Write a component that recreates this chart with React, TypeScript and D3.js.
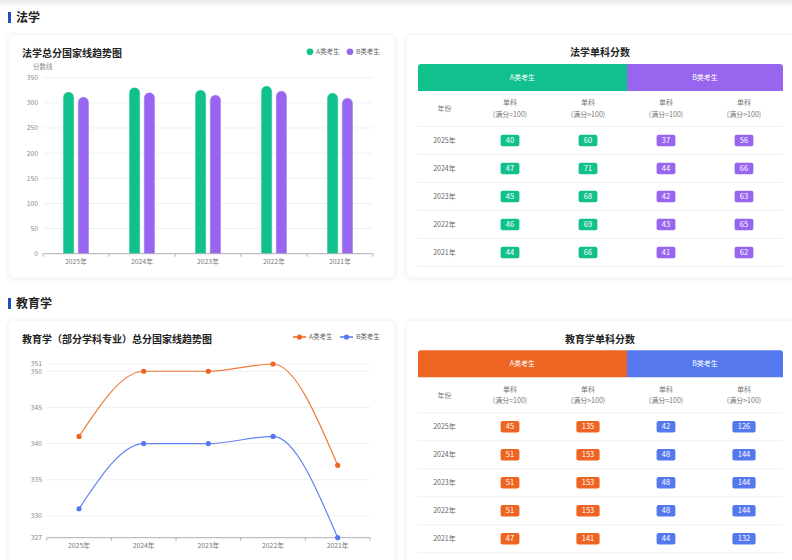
import React from "react";
import * as d3 from "d3";

const years = ["2025年", "2024年", "2023年", "2022年", "2021年"];

// 法学 total score lines
const lawA = [322, 331, 326, 334, 320];
const lawB = [312, 321, 316, 324, 310];
const lawTicks = [0, 50, 100, 150, 200, 250, 300, 350];

// 法学 single subject
const lawA100 = [40, 47, 45, 46, 44];
const lawAOver = [60, 71, 68, 69, 66];
const lawB100 = [37, 44, 42, 43, 41];
const lawBOver = [56, 66, 63, 65, 62];

// 教育学 total score lines
const eduA = [341, 350, 350, 351, 337];
const eduB = [331, 340, 340, 341, 327];
const eduTicks = [327, 330, 335, 340, 345, 350, 351];

// 教育学 single subject
const eduA100 = [45, 51, 51, 51, 47];
const eduAOver = [135, 153, 153, 153, 141];
const eduB100 = [42, 48, 48, 48, 44];
const eduBOver = [126, 144, 144, 144, 132];

const FONT = "'Noto Sans CJK SC', 'Noto Sans', sans-serif";
const GREEN = "#10c18d";
const PURPLE = "#9866ee";
const ORANGE = "#ee6523";
const BLUE = "#5578ef";

const Card = ({ x, y, w, h }: { x: number; y: number; w: number; h: number }) => (
  <rect x={x} y={y} width={w} height={h} rx={6} fill="#fff" stroke="#f1f1f3" filter="url(#shadow)" />
);

const SectionTitle = ({ y, text }: { y: number; text: string }) => (
  <g>
    <rect x={8} y={y - 6} width={3} height={11} fill="#1f4fbf" />
    <text x={16} y={y} dy="0.35em" fontSize={12} fontWeight="bold" fill="#222">{text}</text>
  </g>
);

function BarChart() {
  const x = d3.scaleBand().domain(years).range([43, 373]);
  const y = d3.scaleLinear().domain([0, 350]).range([253.7, 77.7]);
  const inner = d3.scaleBand().domain(["A", "B"]).range([-13, 13]).paddingInner(0.25);
  const series = [
    { key: "A", values: lawA, color: GREEN },
    { key: "B", values: lawB, color: PURPLE },
  ];
  const bw = inner.bandwidth();
  const r = bw / 2;
  const [x0, x1] = x.range();
  const bottom = y(0);

  return (
    <g>
      <text x={22} y={53} dy="0.35em" fontSize={10} fontWeight="bold" fill="#222">法学总分国家线趋势图</text>
      {/* legend */}
      <circle cx={310} cy={51.7} r={3.3} fill={GREEN} />
      <text x={316} y={51.7} dy="0.35em" fontSize={6.5} fill="#666">A类考生</text>
      <circle cx={350} cy={51.7} r={3.3} fill={PURPLE} />
      <text x={356} y={51.7} dy="0.35em" fontSize={6.5} fill="#666">B类考生</text>

      <text x={33} y={67} dy="0.35em" fontSize={6.5} fill="#888">分数线</text>
      {lawTicks.map((t) => (
        <g key={t}>
          {t > 0 && <line x1={x0} x2={x1} y1={y(t)} y2={y(t)} stroke="#eef0f7" />}
          <text x={38} y={y(t)} dy="0.35em" textAnchor="end" fontSize={6.8} fill="#888">{t}</text>
        </g>
      ))}
      {series.map((s) =>
        s.values.map((v, i) => {
          const bx = (x(years[i]) as number) + x.bandwidth() / 2 + (inner(s.key) as number);
          const top = y(v);
          const d = `M${bx},${bottom} V${top + r} A${r},${r} 0 0 1 ${bx + bw},${top + r} V${bottom} Z`;
          return <path key={s.key + i} d={d} fill={s.color} stroke="#fff" strokeWidth={0.6} />;
        })
      )}
      <line x1={x0} x2={x1} y1={bottom} y2={bottom} stroke="#9a9a9a" strokeWidth={0.8} />
      {[...years.map((yr) => x(yr) as number), x1].map((tx, i) => (
        <line key={i} x1={tx} x2={tx} y1={bottom} y2={bottom + 3} stroke="#9a9a9a" strokeWidth={0.8} />
      ))}
      {years.map((yr) => (
        <text key={yr} x={(x(yr) as number) + x.bandwidth() / 2} y={262} dy="0.35em" textAnchor="middle" fontSize={6.8} fill="#777">{yr}</text>
      ))}
    </g>
  );
}

function LineChart() {
  const x = d3.scaleBand().domain(years).range([46.7, 370]);
  const y = d3.scaleLinear().domain([327, 351]).range([537.7, 364]);
  const cx = (i: number) => (x(years[i]) as number) + x.bandwidth() / 2;
  const line = d3
    .line<number>()
    .x((_, i) => cx(i))
    .y((d) => y(d))
    .curve(d3.curveMonotoneX);
  const series = [
    { key: "A", values: eduA, color: "#f07a3a" },
    { key: "B", values: eduB, color: "#6283f2" },
  ];
  const [x0, x1] = x.range();
  const bottom = y(327);

  return (
    <g>
      <text x={22} y={339} dy="0.35em" fontSize={10} fontWeight="bold" fill="#222">教育学（部分学科专业）总分国家线趋势图</text>
      {/* legend */}
      <line x1={293} x2={306} y1={337} y2={337} stroke={ORANGE} strokeWidth={1.5} />
      <circle cx={299.5} cy={337} r={2.6} fill={ORANGE} />
      <text x={309} y={337} dy="0.35em" fontSize={6.5} fill="#666">A类考生</text>
      <line x1={340} x2={353} y1={337} y2={337} stroke={BLUE} strokeWidth={1.5} />
      <circle cx={346.5} cy={337} r={2.6} fill={BLUE} />
      <text x={356} y={337} dy="0.35em" fontSize={6.5} fill="#666">B类考生</text>

      {eduTicks.map((t) => (
        <g key={t}>
          {t > 327 && <line x1={x0} x2={x1} y1={y(t)} y2={y(t)} stroke="#eef0f7" />}
          <text x={42} y={y(t)} dy="0.35em" textAnchor="end" fontSize={6.8} fill="#888">{t}</text>
        </g>
      ))}
      <line x1={x0} x2={x1} y1={bottom} y2={bottom} stroke="#9a9a9a" strokeWidth={0.8} />
      {[...years.map((yr) => x(yr) as number), x1].map((tx, i) => (
        <line key={i} x1={tx} x2={tx} y1={bottom} y2={bottom + 3} stroke="#9a9a9a" strokeWidth={0.8} />
      ))}
      {years.map((yr, i) => (
        <text key={yr} x={cx(i)} y={545.5} dy="0.35em" textAnchor="middle" fontSize={6.8} fill="#777">{yr}</text>
      ))}
      {series.map((s) => (
        <g key={s.key}>
          <path d={line(s.values) as string} fill="none" stroke={s.color} strokeWidth={1.2} />
          {s.values.map((v, i) => (
            <circle key={i} cx={cx(i)} cy={y(v)} r={2.6} fill={s.key === "A" ? ORANGE : BLUE} />
          ))}
        </g>
      ))}
    </g>
  );
}

interface TableProps {
  titleY: number;
  title: string;
  colorA: string;
  colorB: string;
  cols: number[][];
}

function ScoreTable({ titleY, title, colorA, colorB, cols }: TableProps) {
  const left = 418;
  const right = 783;
  const yearRight = 471;
  const colX = d3.scaleBand<number>().domain([0, 1, 2, 3]).range([yearRight, right]);
  const bandTop = titleY + 11.3;
  const bandBottom = bandTop + 27;
  const subBottom = bandBottom + 35.5;
  const rowY = d3.scaleBand().domain(years).range([subBottom, subBottom + 28 * years.length]);
  const mid = colX(2) as number;
  const rr = 3;
  const pathA = `M${left},${bandBottom} V${bandTop + rr} Q${left},${bandTop} ${left + rr},${bandTop} H${mid} V${bandBottom} Z`;
  const pathB = `M${mid},${bandBottom} V${bandTop} H${right - rr} Q${right},${bandTop} ${right},${bandTop + rr} V${bandBottom} Z`;
  const colCenter = (c: number) => (colX(c) as number) + colX.bandwidth() / 2;
  const subLabels = ["(满分=100)", "(满分>100)", "(满分=100)", "(满分>100)"];

  return (
    <g>
      <text x={600} y={titleY} dy="0.35em" textAnchor="middle" fontSize={10} fontWeight="bold" fill="#222">{title}</text>
      <path d={pathA} fill={colorA} />
      <path d={pathB} fill={colorB} />
      <text x={(left + mid) / 2} y={(bandTop + bandBottom) / 2} dy="0.35em" textAnchor="middle" fontSize={7} fill="#fff">A类考生</text>
      <text x={(mid + right) / 2} y={(bandTop + bandBottom) / 2} dy="0.35em" textAnchor="middle" fontSize={7} fill="#fff">B类考生</text>

      <text x={(left + yearRight) / 2} y={bandBottom + 18} dy="0.35em" textAnchor="middle" fontSize={7} fill="#777">年份</text>
      {subLabels.map((s, c) => (
        <g key={c}>
          <text x={colCenter(c)} y={bandBottom + 12} dy="0.35em" textAnchor="middle" fontSize={7} fill="#777">单科</text>
          <text x={colCenter(c)} y={bandBottom + 23.5} dy="0.35em" textAnchor="middle" fontSize={7} fill="#777">{s}</text>
        </g>
      ))}
      <line x1={left} x2={right} y1={subBottom} y2={subBottom} stroke="#f0f0f2" />
      {years.map((yr, i) => {
        const ry = rowY(yr) as number;
        const cy = ry + rowY.bandwidth() / 2;
        return (
          <g key={yr}>
            <text x={(left + yearRight) / 2} y={cy} dy="0.35em" textAnchor="middle" fontSize={7} fill="#666">{yr}</text>
            {cols.map((vals, c) => {
              const label = String(vals[i]);
              const w = 10 + label.length * 4.4;
              return (
                <g key={c}>
                  <rect x={colCenter(c) - w / 2} y={cy - 5.7} width={w} height={11.4} rx={2} fill={c < 2 ? colorA : colorB} />
                  <text x={colCenter(c)} y={cy} dy="0.35em" textAnchor="middle" fontSize={7.5} fill="#fff">{label}</text>
                </g>
              );
            })}
            <line x1={left} x2={right} y1={ry + rowY.bandwidth()} y2={ry + rowY.bandwidth()} stroke="#f0f0f2" />
          </g>
        );
      })}
    </g>
  );
}

export default function App() {
  return (
    <div style={{ position: "absolute", left: 0, top: 0 }}>
      <svg width={792} height={560} style={{ display: "block", fontFamily: FONT }}>
        <defs>
          <filter id="shadow" x="-5%" y="-5%" width="110%" height="110%">
            <feDropShadow dx={0} dy={1} stdDeviation={2} floodColor="#000" floodOpacity={0.06} />
          </filter>
          <linearGradient id="topfade" x1="0" x2="0" y1="0" y2="1">
            <stop offset="0" stopColor="#e9e9eb" />
            <stop offset="1" stopColor="#ffffff" />
          </linearGradient>
        </defs>
        <rect width={792} height={560} fill="#fff" />
        <rect width={792} height={7} fill="url(#topfade)" />

        <SectionTitle y={18} text="法学" />
        <Card x={8} y={34} w={387} h={244} />
        <Card x={406} y={34} w={392} h={244} />
        <BarChart />
        <ScoreTable titleY={52.7} title="法学单科分数" colorA={GREEN} colorB={PURPLE} cols={[lawA100, lawAOver, lawB100, lawBOver]} />

        <SectionTitle y={304} text="教育学" />
        <Card x={8} y={320} w={387} h={260} />
        <Card x={406} y={320} w={392} h={260} />
        <LineChart />
        <ScoreTable titleY={339} title="教育学单科分数" colorA={ORANGE} colorB={BLUE} cols={[eduA100, eduAOver, eduB100, eduBOver]} />
      </svg>
    </div>
  );
}
